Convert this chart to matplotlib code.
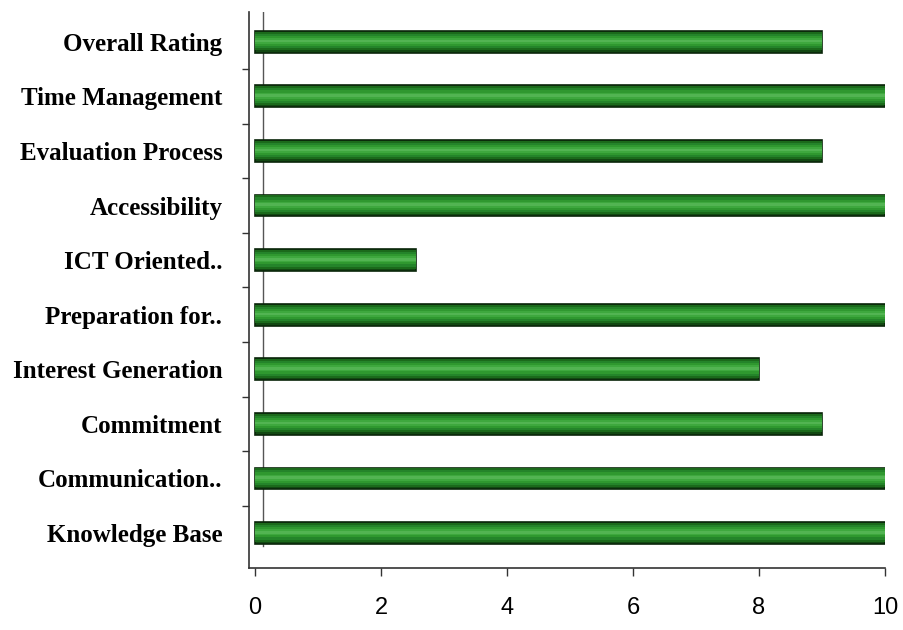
import numpy as np
import matplotlib.pyplot as plt

# categories listed bottom to top
categories = ['Knowledge Base', 'Communication..', 'Commitment', 'Interest Generation',
              'Preparation for..', 'ICT Oriented..', 'Accessibility', 'Evaluation Process',
              'Time Management', 'Overall Rating']
scores = [10, 10, 9, 8, 10, 2.55, 10, 9, 10, 9]
x_ticks = [0, 2, 4, 6, 8, 10]

fig = plt.figure(figsize=(9.04, 6.3), dpi=100)
ax = fig.add_axes([0.2751, 0.0984, 0.7039, 0.883])

y = np.arange(len(categories))

# layered bars to fake the cylinder look
layers = [(0.40, '#124812'), (0.34, '#1b6a1b'), (0.27, '#24842a'),
          (0.19, '#2f982f'), (0.11, '#3ea83e'), (0.05, '#52b452')]
ax.barh(y, scores, height=0.40, color='#124812', edgecolor='#0a260a', linewidth=1.2, zorder=3)
for i, (h, c) in enumerate(layers[1:]):
    ax.barh(y + 0.015, scores, height=h, color=c, linewidth=0, zorder=4 + i)

# back wall of the pseudo 3d chart
ax.axvline(0.12, ymin=0.04, ymax=1.0, color='#555555', lw=1.0, zorder=1)

ax.set_xlim(-0.1, 10.0)
ax.set_ylim(-0.64, 9.55)
ax.set_xticks(x_ticks)
ax.set_xticklabels([str(t) for t in x_ticks], fontsize=17, family='Liberation Sans')
ax.tick_params(axis='x', length=6, width=1, pad=15, direction='out', color='#333333')

ax.set_yticks(y)
ax.set_yticklabels(categories, fontsize=18, family='Liberation Serif', fontweight='bold')
ax.tick_params(axis='y', which='major', length=0, pad=19)
ax.set_yticks(y[:-1] + 0.5, minor=True)
ax.tick_params(axis='y', which='minor', length=5, width=1, color='#333333')

for s in ['top', 'right']:
    ax.spines[s].set_visible(False)
for s in ['left', 'bottom']:
    ax.spines[s].set_color('#333333')
    ax.spines[s].set_linewidth(1.2)

fig.savefig('out.png', dpi=100)
